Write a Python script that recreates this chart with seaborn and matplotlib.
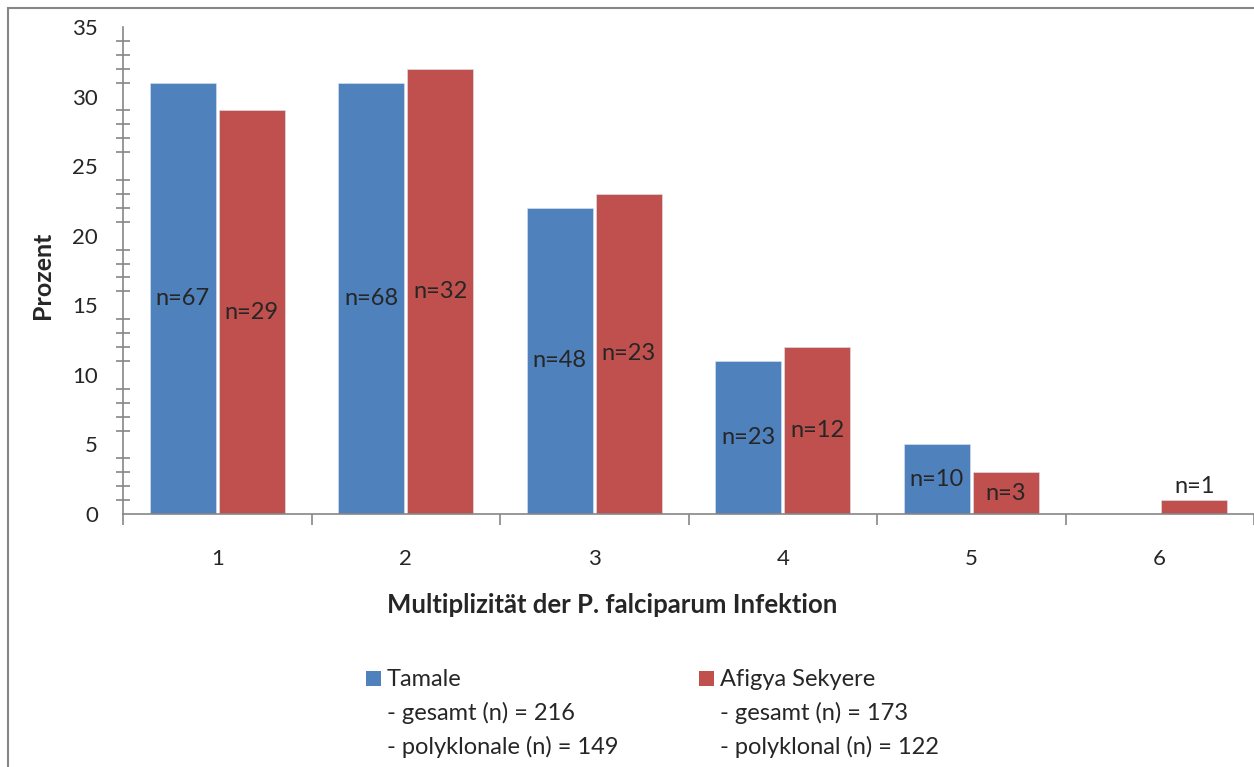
import numpy as np
import matplotlib
matplotlib.use("Agg")
import matplotlib.pyplot as plt
from matplotlib.patches import Rectangle
import seaborn as sns
import pandas as pd

# data
categories = ["1", "2", "3", "4", "5", "6"]
tamale_pct = [31, 31, 22, 11, 5, 0]
afigya_pct = [29, 32, 23, 12, 3, 1]
tamale_n = ["n=67", "n=68", "n=48", "n=23", "n=10", ""]
afigya_n = ["n=29", "n=32", "n=23", "n=12", "n=3", "n=1"]
series = ["Tamale", "Afigya Sekyere"]

legend_lines = {
    "Tamale": ["Tamale", "- gesamt (n) = 216", "- polyklonale (n) = 149"],
    "Afigya Sekyere": ["Afigya Sekyere", "- gesamt (n) = 173", "- polyklonal (n) = 122"],
}

BLUE = "#4F81BD"
RED = "#C0504D"
GREY = "#868686"

df = pd.DataFrame({
    "Multiplizität": categories * 2,
    "Prozent": tamale_pct + afigya_pct,
    "Ort": [series[0]] * len(categories) + [series[1]] * len(categories),
})

sns.set_style("white")
plt.rcParams["font.family"] = ["Lato", "DejaVu Sans"]

W, H = 1254, 767
fig = plt.figure(figsize=(W / 100, H / 100), dpi=100)
ax = fig.add_axes([123 / W, 1 - 514 / H, (1254 - 123) / W, (514 - 27) / H])

sns.barplot(data=df, x="Multiplizität", y="Prozent", hue="Ort",
            palette=[BLUE, RED], saturation=1, width=0.732, gap=0.045, ax=ax,
            legend=False, edgecolor="#DCE6F2", linewidth=0.4)

ax.set_xlim(-0.5, len(categories) - 0.5)
ax.set_ylim(0, 35)

# y axis: major every 5, minor every 1, ticks crossing the axis
ax.set_yticks(np.arange(0, 36, 5))
ax.set_yticks(np.arange(0, 36, 1), minor=True)
ax.tick_params(axis="y", which="major", direction="inout", length=16, width=1.2,
               color=GREY, labelsize=16, pad=10)
ax.tick_params(axis="y", which="minor", direction="inout", length=10, width=1.2,
               color=GREY, left=True)

# x axis: labels at centres, tick marks at category borders
ax.set_xticks(range(len(categories)), categories)
ax.set_xticks(np.arange(-0.5, len(categories), 1), minor=True)
ax.tick_params(axis="x", which="major", length=0, labelsize=16, pad=25)
ax.tick_params(axis="x", which="minor", direction="out", length=8, width=1.2,
               color=GREY, bottom=True)

for s in ["top", "right"]:
    ax.spines[s].set_visible(False)
for s in ["left", "bottom"]:
    ax.spines[s].set_color(GREY)
    ax.spines[s].set_linewidth(1.2)

ax.set_xlabel("")
ax.set_ylabel("")

# n labels in the bars
for cont, labels in zip(ax.containers, [tamale_n, afigya_n]):
    for bar, lab in zip(cont, labels):
        if not lab:
            continue
        h = bar.get_height()
        xc = bar.get_x() + bar.get_width() / 2
        if h >= 3:
            ax.text(xc, h / 2, lab, ha="center", va="center", fontsize=17)
        else:
            ax.annotate(lab, (xc, h), xytext=(0, 2), textcoords="offset points",
                        ha="center", va="bottom", fontsize=17)

fig.text(612 / W, 1 - 605 / H, "Multiplizität der P. falciparum Infektion",
         ha="center", va="center", fontsize=18.5, fontweight="bold")
fig.text(43 / W, 1 - 275 / H, "Prozent", ha="center", va="center",
         rotation=90, fontsize=18, fontweight="bold")

# legend, drawn by hand so the square sits on the first line
for name, color, x0 in [(series[0], BLUE, 366), (series[1], RED, 699)]:
    fig.add_artist(Rectangle((x0 / W, 1 - 686 / H), 15 / W, 15 / H,
                             facecolor=color, edgecolor="none",
                             transform=fig.transFigure))
    for i, line in enumerate(legend_lines[name]):
        fig.text((x0 + 21) / W, 1 - (679 + 34 * i) / H, line,
                 ha="left", va="center", fontsize=17)

# chart area frame
fig.add_artist(Rectangle((8 / W, -0.1), 1.2, 1 - 8 / H + 0.1, fill=False,
                         edgecolor=GREY, linewidth=1.5,
                         transform=fig.transFigure))

fig.savefig("out.png", dpi=100)
